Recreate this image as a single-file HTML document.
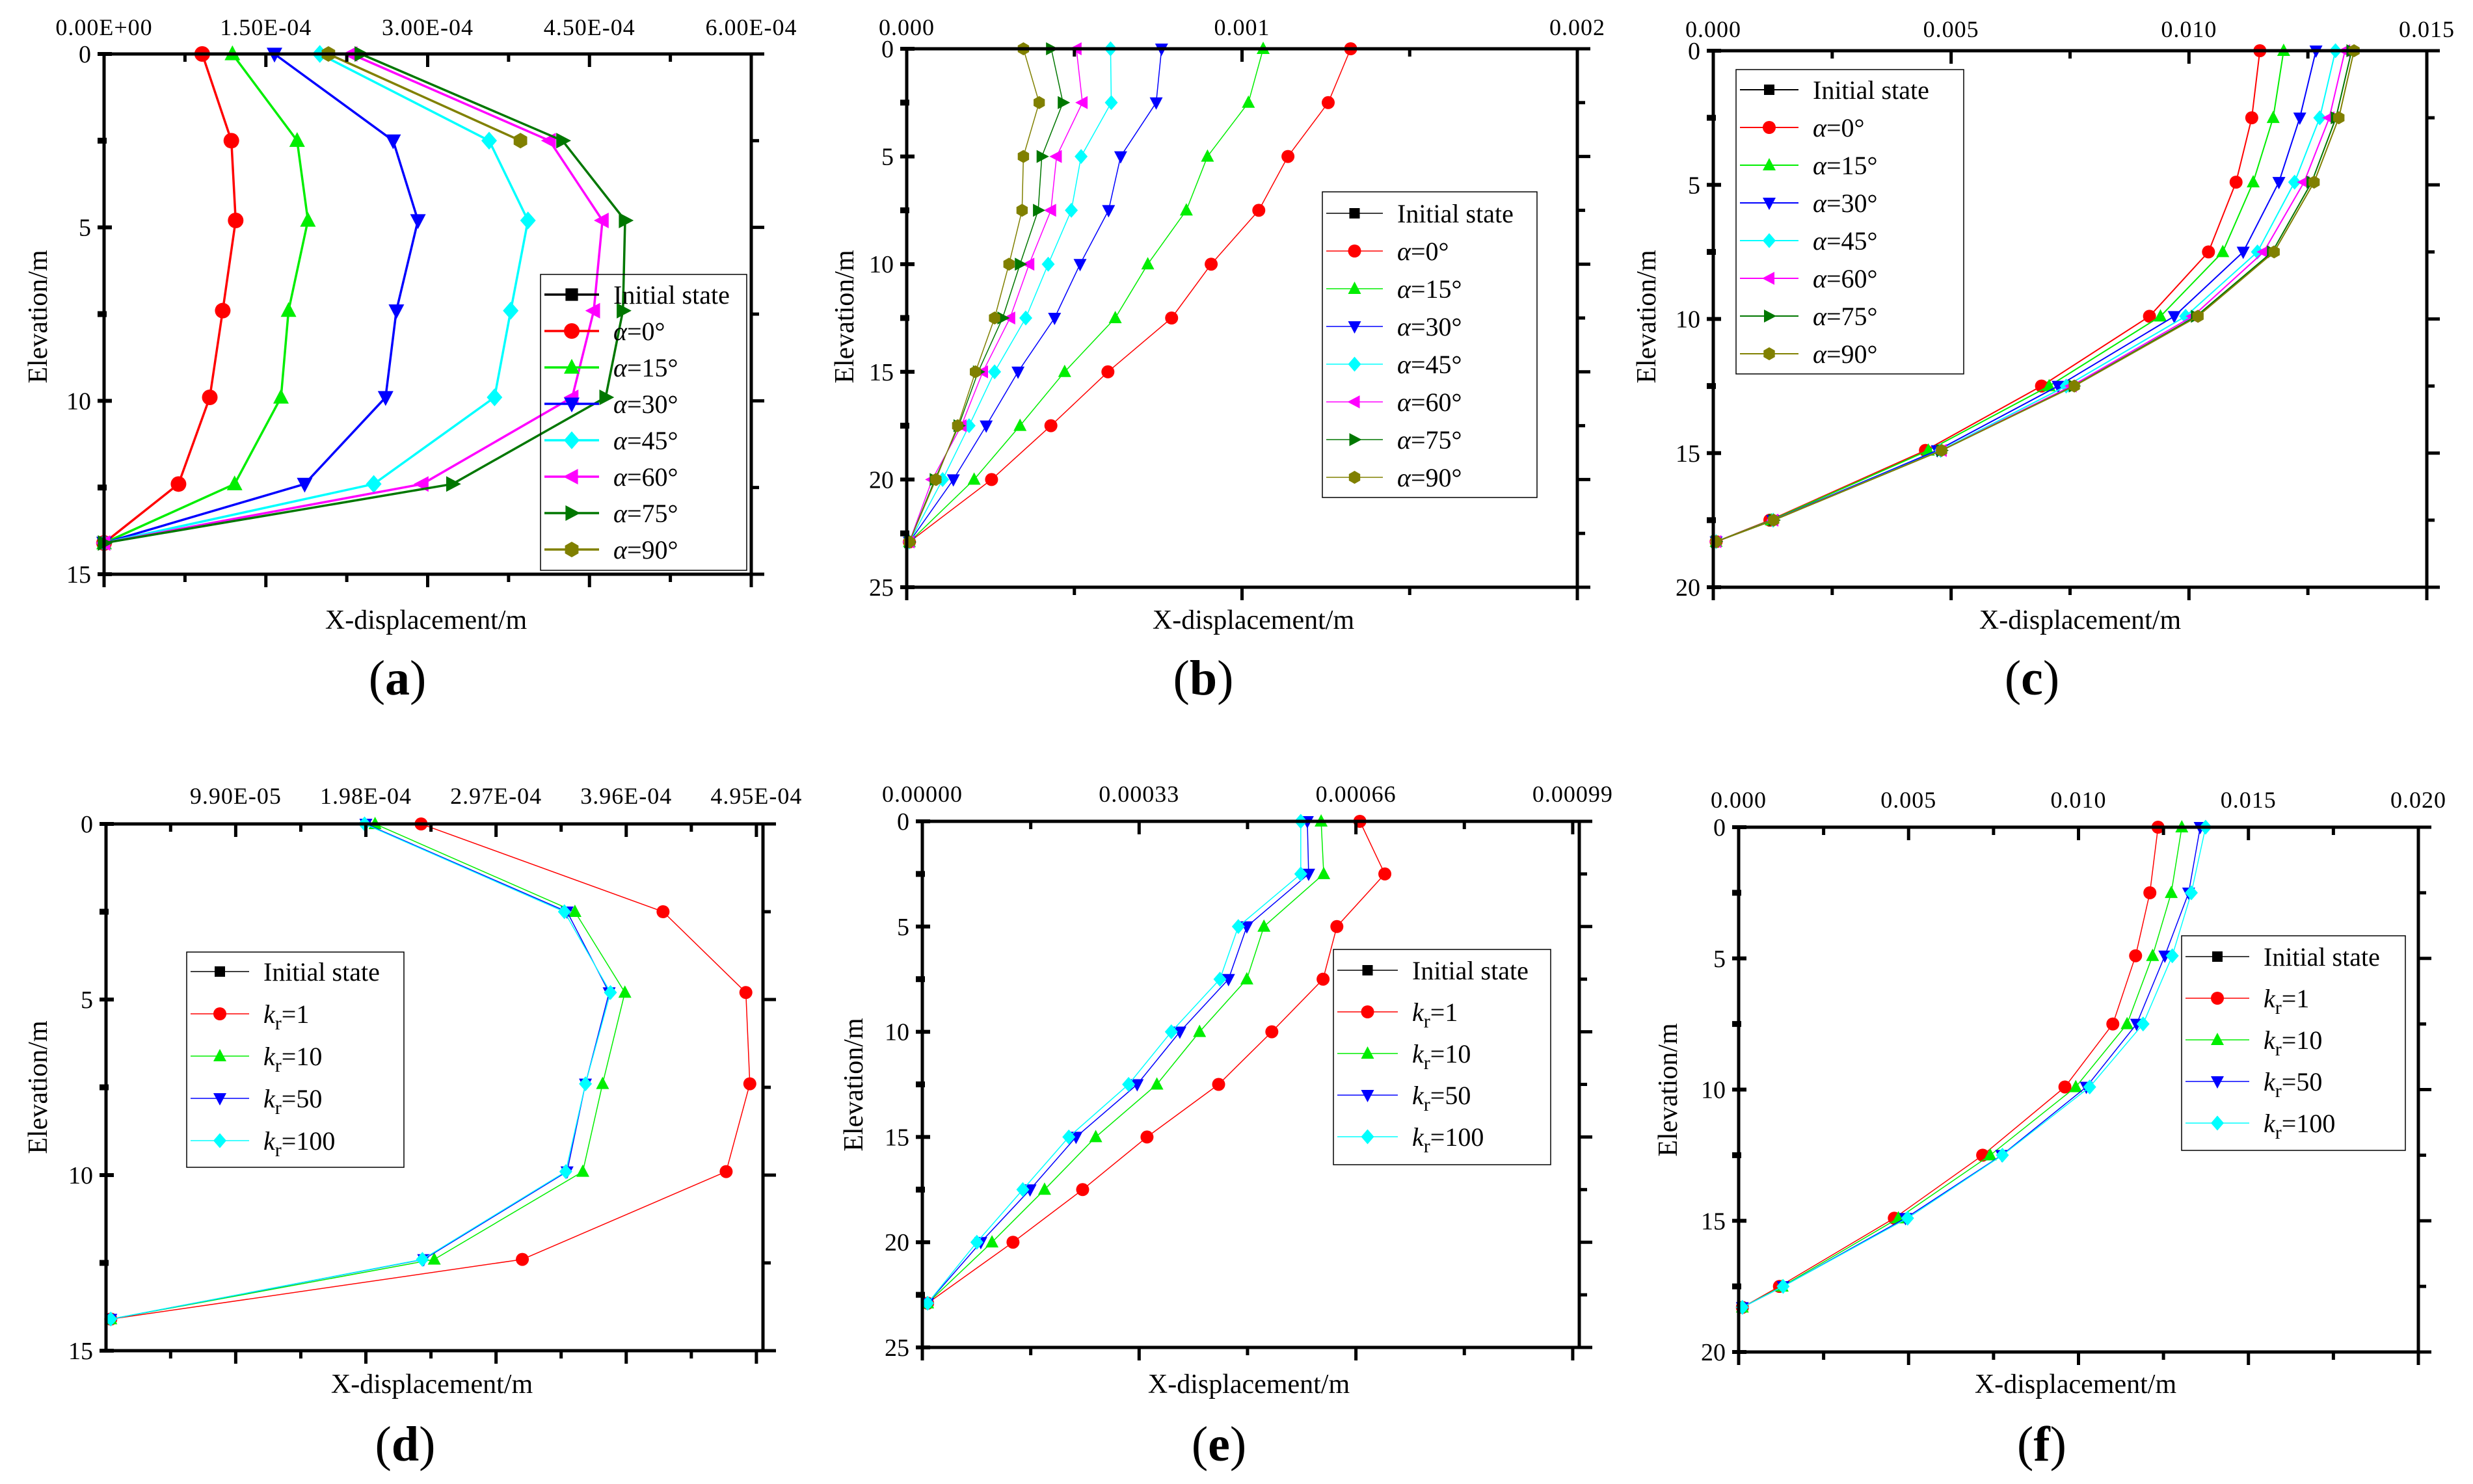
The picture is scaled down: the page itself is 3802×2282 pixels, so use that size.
<!DOCTYPE html>
<html><head><meta charset="utf-8"><style>
html,body{margin:0;padding:0;background:#fff;}
svg{display:block;font-family:"Liberation Serif","Noto Serif CJK SC",serif;}
</style></head><body>
<svg id="fig" width="3802" height="2282" viewBox="0 0 3802 2282" xmlns="http://www.w3.org/2000/svg"></svg>
<script>
// ---------- Panel (a) data ----------
const aDepth=[0,2.5,4.8,7.4,9.9,12.4,14.1];
const aA0=[0.91e-4,1.18e-4,1.22e-4,1.10e-4,0.98e-4,0.69e-4,0];
const aA15=[1.19e-4,1.79e-4,1.89e-4,1.71e-4,1.64e-4,1.21e-4,0];
const aA30=[1.58e-4,2.68e-4,2.91e-4,2.71e-4,2.61e-4,1.86e-4,0];
const aA45=[2.0e-4,3.57e-4,3.93e-4,3.77e-4,3.62e-4,2.50e-4,0];
const aA60=[2.29e-4,4.13e-4,4.62e-4,4.54e-4,4.34e-4,2.95e-4,0];
const aA75=[2.38e-4,4.25e-4,4.83e-4,4.81e-4,4.65e-4,3.23e-4,0];
const aA90=[2.08e-4,3.86e-4];
const aXTicks=[0,1.5e-4,3e-4,4.5e-4,6e-4];
const aXTickLabels=["0.00E+00","1.50E-04","3.00E-04","4.50E-04","6.00E-04"];
// ---------- Panel (b) data ----------
const bDepth=[0,2.5,5,7.5,10,12.5,15,17.5,20,22.9];
const bA0=[1.324e-3,1.257e-3,1.137e-3,1.050e-3,0.908e-3,0.790e-3,0.600e-3,0.430e-3,0.253e-3,0.008e-3];
const bA15=[1.063e-3,1.019e-3,0.897e-3,0.834e-3,0.719e-3,0.622e-3,0.471e-3,0.338e-3,0.201e-3,0.008e-3];
const bA30=[0.760e-3,0.744e-3,0.638e-3,0.602e-3,0.517e-3,0.441e-3,0.332e-3,0.237e-3,0.139e-3,0.008e-3];
const bA45=[0.608e-3,0.610e-3,0.520e-3,0.491e-3,0.422e-3,0.355e-3,0.262e-3,0.186e-3,0.107e-3,0.008e-3];
const bA60=[0.506e-3,0.524e-3,0.447e-3,0.430e-3,0.365e-3,0.308e-3,0.227e-3,0.163e-3,0.076e-3,0.008e-3];
const bA75=[0.431e-3,0.466e-3,0.403e-3,0.392e-3,0.338e-3,0.286e-3,0.213e-3,0.155e-3,0.084e-3,0.008e-3];
const bA90=[0.348e-3,0.395e-3,0.348e-3,0.344e-3,0.305e-3,0.262e-3,0.205e-3,0.152e-3,0.087e-3,0.008e-3];
const bXTicks=[0,0.001,0.002];
const bXTickLabels=["0.000","0.001","0.002"];
// ---------- Panel (c) data ----------
const cDepth=[0,2.5,4.9,7.5,9.9,12.5,14.9,17.5,18.3];
const cA0=[0.01149,0.01132,0.01099,0.01041,0.00917,0.00690,0.00446,0.00119,0.00006];
const cA15=[0.01199,0.01177,0.01135,0.01071,0.00940,0.00706,0.00452,0.00122,0.00006];
const cA30=[0.01267,0.01233,0.01189,0.01114,0.00969,0.00725,0.00471,0.00125,0.00006];
const cA45=[0.01308,0.01275,0.01222,0.01144,0.00993,0.00742,0.00478,0.00126,0.00006];
const cA60=[0.01328,0.01295,0.01242,0.01157,0.01008,0.00753,0.00480,0.00126,0.00006];
const cA75=[0.01342,0.01309,0.01258,0.01175,0.01015,0.00758,0.00480,0.00127,0.00006];
const cA90=[0.01347,0.01315,0.01263,0.01179,0.01019,0.00759,0.00480,0.00127,0.00006];
const cXTicks=[0,0.005,0.010,0.015];
const cXTickLabels=["0.000","0.005","0.010","0.015"];
// ---------- Panel (d) data ----------
const dDepth=[0,2.5,4.8,7.4,9.9,12.4,14.1];
const dK1=[2.40e-4,4.24e-4,4.87e-4,4.90e-4,4.72e-4,3.17e-4,0.04e-4];
const dK10=[2.05e-4,3.57e-4,3.95e-4,3.78e-4,3.63e-4,2.50e-4,0.04e-4];
const dK50=[1.98e-4,3.51e-4,3.83e-4,3.65e-4,3.51e-4,2.42e-4,0.04e-4];
const dK100=[1.97e-4,3.49e-4,3.84e-4,3.65e-4,3.50e-4,2.41e-4,0.04e-4];
const dXTicks=[0.99e-4,1.98e-4,2.97e-4,3.96e-4,4.95e-4];
const dXTickLabels=["9.90E-05","1.98E-04","2.97E-04","3.96E-04","4.95E-04"];
// ---------- Panel (e) data ----------
const eDepth=[0,2.5,5,7.5,10,12.5,15,17.5,20,22.9];
const eK1=[66.6e-5,70.4e-5,63.1e-5,61.0e-5,53.2e-5,45.1e-5,34.2e-5,24.4e-5,13.8e-5,0.8e-5];
const eK10=[60.7e-5,61.1e-5,52.0e-5,49.4e-5,42.2e-5,35.7e-5,26.4e-5,18.6e-5,10.6e-5,0.8e-5];
const eK50=[58.6e-5,58.8e-5,49.4e-5,46.6e-5,39.2e-5,32.7e-5,23.4e-5,16.4e-5,8.9e-5,0.8e-5];
const eK100=[57.6e-5,57.6e-5,48.1e-5,45.3e-5,37.9e-5,31.4e-5,22.3e-5,15.3e-5,8.3e-5,0.8e-5];
const eXTicks=[0,0.00033,0.00066,0.00099];
const eXTickLabels=["0.00000","0.00033","0.00066","0.00099"];
// ---------- Panel (f) data ----------
const fDepth=[0,2.5,4.9,7.5,9.9,12.5,14.9,17.5,18.3];
const fK1=[0.01234,0.01210,0.01168,0.01101,0.00960,0.00718,0.00458,0.00120,0.00011];
const fK10=[0.01304,0.01273,0.01218,0.01143,0.00992,0.00740,0.00470,0.00128,0.00011];
const fK50=[0.01358,0.01324,0.01254,0.01171,0.01023,0.00774,0.00491,0.00131,0.00011];
const fK100=[0.01374,0.01332,0.01276,0.01190,0.01033,0.00776,0.00497,0.00131,0.00011];
const fXTicks=[0,0.005,0.010,0.015,0.020];
const fXTickLabels=["0.000","0.005","0.010","0.015","0.020"];

const alphaNames=["Initial state","0°","15°","30°","45°","60°","75°","90°"];
const kNames=["Initial state","1","10","50","100"];
const alphaColors=["#000000","#ff0000","#00ee00","#0000ff","#00ffff","#ff00ff","#007700","#808000"];
const alphaMarkers=["square","circle","up","down","diamond","left","right","hex"];

const NS="http://www.w3.org/2000/svg";
const svg=document.getElementById("fig");
function el(tag,attrs,parent){const e=document.createElementNS(NS,tag);for(const k in attrs)e.setAttribute(k,attrs[k]);(parent||svg).appendChild(e);return e;}

function marker(g,type,cx,cy,r,color){
  let m;
  if(type==="circle"){m=el("circle",{cx:cx,cy:cy,r:r,fill:color},g);}
  else if(type==="square"){m=el("rect",{x:cx-r*0.8,y:cy-r*0.8,width:r*1.6,height:r*1.6,fill:color},g);}
  else{
    let pts=[];
    if(type==="up")pts=[[0,-1.1],[1,0.8],[-1,0.8]];
    else if(type==="down")pts=[[0,1.1],[1,-0.8],[-1,-0.8]];
    else if(type==="left")pts=[[-1.1,0],[0.8,-1],[0.8,1]];
    else if(type==="right")pts=[[1.1,0],[-0.8,-1],[-0.8,1]];
    else if(type==="diamond")pts=[[0,-1.15],[1,0],[0,1.15],[-1,0]];
    else if(type==="hex"){for(let i=0;i<6;i++){const a=Math.PI/6+i*Math.PI/3;pts.push([Math.cos(a),Math.sin(a)]);}}
    m=el("polygon",{points:pts.map(p=>(cx+p[0]*r).toFixed(1)+","+(cy+p[1]*r).toFixed(1)).join(" "),fill:color},g);
  }
  
  
  return m;
}

function panel(p){
  const g=el("g",{});
  
  
  const sx=v=>p.L+(v-p.xmin)/(p.xmax-p.xmin)*(p.R-p.L);
  const sy=v=>p.T+(v-0)/(p.ymax)*(p.B-p.T);
  p.series.forEach((s,i)=>{
    if(!s.vals)return;
    const pts=s.vals.map((v,j)=>sx(v).toFixed(1)+","+sy(s.depth[j]).toFixed(1)).join(" ");
    const line=el("polyline",{points:pts,fill:"none",stroke:s.color,"stroke-width":p.lw,"stroke-linejoin":"round"},g);
    
    
    s.vals.forEach((v,j)=>marker(g,s.marker,sx(v),sy(s.depth[j]),p.mr,s.color));
  });
  const fr=el("rect",{x:p.L,y:p.T,width:p.R-p.L,height:p.B-p.T,fill:"none",stroke:"#000","stroke-width":5},g);
  
  
  const maj=p.xticks;
  const step=maj[1]-maj[0];
  for(let v=maj[0]-step;v<=p.xmax+1e-12;v+=step/2){
    if(v<p.xmin-1e-12)continue;
    const x=sx(v);
    const isMaj=Math.abs(((v-maj[0])/step)-Math.round((v-maj[0])/step))<1e-6;
    const len=isMaj?20:12;
    el("line",{x1:x,y1:p.T,x2:x,y2:p.T+len,stroke:"#000","stroke-width":5},g);
    el("line",{x1:x,y1:p.B,x2:x,y2:p.B+len,stroke:"#000","stroke-width":5},g);
  }
  maj.forEach((v,i)=>{
    const t=el("text",{x:sx(v),y:p.tickY,"font-size":36,"text-anchor":"middle","letter-spacing":"1"},g);
    t.textContent=p.xlabels[i];
    
    
  });
  for(let v=0;v<=p.ymax+1e-9;v+=2.5){
    const y=sy(v);const isMaj=(v%5===0);
    const len=isMaj?20:12;
    el("line",{x1:p.L-10,y1:y,x2:p.L+len-8,y2:y,stroke:"#000","stroke-width":isMaj?6:9},g);
    el("line",{x1:p.R,y1:y,x2:p.R+len,y2:y,stroke:"#000","stroke-width":5},g);
    if(isMaj){
      const t=el("text",{x:p.L-20,y:y+13,"font-size":38,"text-anchor":"end"},g);
      t.textContent=String(v);
      
      
    }
  }
  const xt=el("text",{x:p.xtX,y:p.xtY,"font-size":42,"text-anchor":"middle"},g);
  xt.textContent="X-displacement/m";
  
  
  const yt=el("text",{x:0,y:0,"font-size":42,"text-anchor":"middle",transform:"translate("+p.ytX+","+p.ytY+") rotate(-90)"},g);
  yt.textContent="Elevation/m";
  
  
  const lab=el("text",{x:p.labX,y:p.labY,"font-size":76,"text-anchor":"middle"},g);
  
  
  lab.innerHTML='(<tspan font-weight="bold">'+p.id+'</tspan>)';
  const lg=el("g",{},g);
  
  
  el("rect",{x:p.lgX,y:p.lgY,width:p.lgW,height:p.lgH,fill:"none",stroke:"#000","stroke-width":1.5},lg);
  p.series.forEach((s,i)=>{
    const y=p.lgRow0+i*p.lgStep;
    const e=el("g",{},lg);
    
    
    el("line",{x1:p.lgX+6,y1:y,x2:p.lgX+6+p.lgLine,y2:y,stroke:s.color,"stroke-width":p.lw},e);
    marker(e,s.marker,p.lgX+6+p.lgLine/2,y,p.mr,s.color);
    const t=el("text",{x:p.lgX+p.lgLine+28,y:y+14,"font-size":40},e);
    if(i===0)t.textContent="Initial state";
    else if(p.kind==="alpha")t.innerHTML='<tspan font-style="italic">α</tspan>='+s.name;
    else t.innerHTML='<tspan font-style="italic">k</tspan><tspan font-size="30" dy="10">r</tspan><tspan dy="-10">='+s.name+'</tspan>';
  });
}

function mkSeries(depth,arrs,names,kind){
  const out=[{key:"initial",name:names[0],color:"#000",marker:"square",vals:null,depth:depth}];
  arrs.forEach((a,i)=>out.push({key:kind+"-"+names[i+1],name:names[i+1],color:alphaColors[i+1],marker:alphaMarkers[i+1],vals:a,depth:depth}));
  return out;
}

panel({id:"a",kind:"alpha",L:160,R:1155,T:83,B:883,xmin:0,xmax:6e-4,ymax:15,lw:3.5,mr:12,
  xticks:aXTicks,xlabels:aXTickLabels,tickY:54,xtX:655,xtY:967,ytX:72,ytY:487,labX:611,labY:1068,
  lgX:831,lgY:422,lgW:317,lgH:455,lgRow0:453,lgStep:56,lgLine:84,
  series:mkSeries(aDepth,[aA0,aA15,aA30,aA45,aA60,aA75,aA90],alphaNames,"alpha")});
panel({id:"b",kind:"alpha",L:1394,R:2425,T:75,B:903,xmin:0,xmax:0.002,ymax:25,lw:1.5,mr:10,
  xticks:bXTicks,xlabels:bXTickLabels,tickY:54,xtX:1927,xtY:967,ytX:1312,ytY:487,labX:1850,labY:1068,
  lgX:2033,lgY:295,lgW:330,lgH:470,lgRow0:328,lgStep:58,lgLine:87,
  series:mkSeries(bDepth,[bA0,bA15,bA30,bA45,bA60,bA75,bA90],alphaNames,"alpha")});
panel({id:"c",kind:"alpha",L:2634,R:3731,T:78,B:903,xmin:0,xmax:0.015,ymax:20,lw:2,mr:10,
  xticks:cXTicks,xlabels:cXTickLabels,tickY:57,xtX:3198,xtY:967,ytX:2545,ytY:487,labX:3124,labY:1068,
  lgX:2669,lgY:107,lgW:350,lgH:468,lgRow0:138,lgStep:58,lgLine:90,
  series:mkSeries(cDepth,[cA0,cA15,cA30,cA45,cA60,cA75,cA90],alphaNames,"alpha")});
panel({id:"d",kind:"k",L:163,R:1173,T:1267,B:2077,xmin:0.0038e-4,xmax:5.0e-4,ymax:15,lw:1.5,mr:10,
  xticks:dXTicks,xlabels:dXTickLabels,tickY:1236,xtX:664,xtY:2142,ytX:72,ytY:1672,labX:623,labY:2246,
  lgX:287,lgY:1464,lgW:334,lgH:331,lgRow0:1494,lgStep:65,lgLine:90,
  series:mkSeries(dDepth,[dK1,dK10,dK50,dK100],kNames,"k")});
panel({id:"e",kind:"k",L:1418,R:2428,T:1263,B:2072,xmin:0,xmax:0.001,ymax:25,lw:1.5,mr:10,
  xticks:eXTicks,xlabels:eXTickLabels,tickY:1233,xtX:1920,xtY:2142,ytX:1326,ytY:1668,labX:1874,labY:2246,
  lgX:2050,lgY:1460,lgW:334,lgH:331,lgRow0:1492,lgStep:64,lgLine:93,
  series:mkSeries(eDepth,[eK1,eK10,eK50,eK100],kNames,"k")});
panel({id:"f",kind:"k",L:2673,R:3718,T:1272,B:2079,xmin:0,xmax:0.020,ymax:20,lw:1.5,mr:10,
  xticks:fXTicks,xlabels:fXTickLabels,tickY:1242,xtX:3191,xtY:2142,ytX:2578,ytY:1676,labX:3139,labY:2246,
  lgX:3354,lgY:1439,lgW:344,lgH:330,lgRow0:1471,lgStep:64,lgLine:98,
  series:mkSeries(fDepth,[fK1,fK10,fK50,fK100],kNames,"k")});
</script>
</body></html>
